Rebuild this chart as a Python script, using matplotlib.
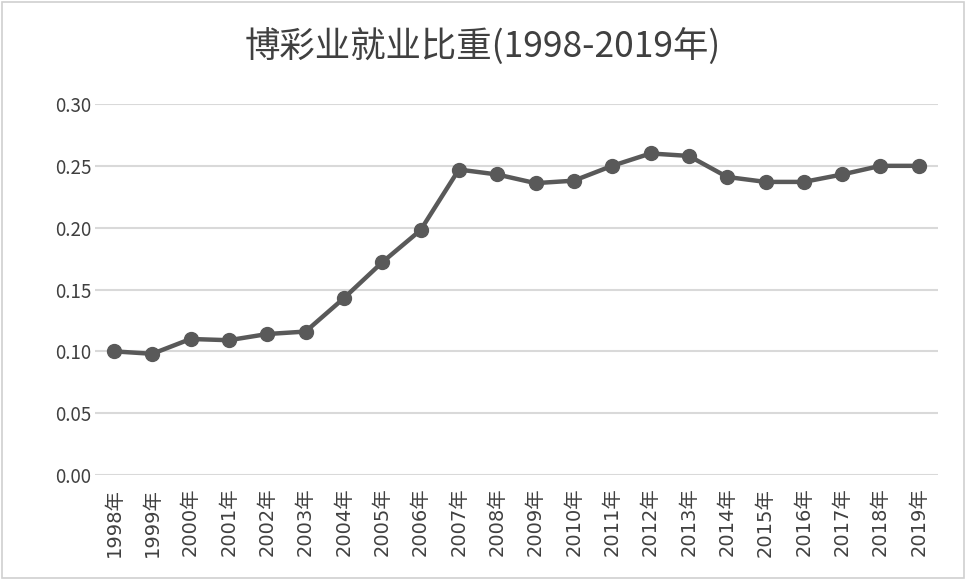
import matplotlib
matplotlib.use("Agg")
import matplotlib.pyplot as plt
from matplotlib.patches import Rectangle

plt.rcParams['font.family'] = ['Noto Sans CJK SC', 'DejaVu Sans']

years = [f"{y}年" for y in range(1998, 2020)]
values = [0.100, 0.098, 0.110, 0.109, 0.114, 0.116, 0.143, 0.172, 0.198, 0.247,
          0.243, 0.236, 0.238, 0.250, 0.260, 0.258, 0.241, 0.237, 0.237, 0.243,
          0.250, 0.250]
yticks = [0.00, 0.05, 0.10, 0.15, 0.20, 0.25, 0.30]
title = "博彩业就业比重(1998-2019年)"

fig = plt.figure(figsize=(9.66, 5.8), dpi=100)
ax = fig.add_axes([0.0981, 0.181, 0.8729, 0.6397])

x = list(range(len(years)))
ax.plot(x, values, color='#595959', linewidth=3.2, marker='o', markersize=10,
        markerfacecolor='#595959', markeredgecolor='#595959', zorder=3)

ax.set_xlim(-0.5, len(years) - 0.5)
ax.set_ylim(0, 0.30)
ax.set_yticks(yticks)
ax.set_yticklabels([f"{v:.2f}" for v in yticks], fontsize=13.5)
ax.set_xticks(x)
ax.set_xticklabels(years, rotation=90, fontsize=14,
                   family=['DejaVu Sans', 'Noto Sans CJK SC'])
ax.tick_params(axis='both', length=0, labelcolor='#404040')
ax.tick_params(axis='y', pad=2.5)
ax.tick_params(axis='x', pad=9)
ax.grid(axis='y', color='#d9d9d9', linewidth=1.5)
ax.set_axisbelow(True)
for s in ax.spines.values():
    s.set_visible(False)

fig.text(0.5, 0.92, title, ha='center', va='center', fontsize=25.5,
         color='#404040', fontweight='light')

fig.patches.append(Rectangle((0.002, 0.003), 0.996, 0.994, transform=fig.transFigure,
                             fill=False, edgecolor='#d0d0d0', linewidth=1.2))

fig.savefig('out.png', dpi=100)
